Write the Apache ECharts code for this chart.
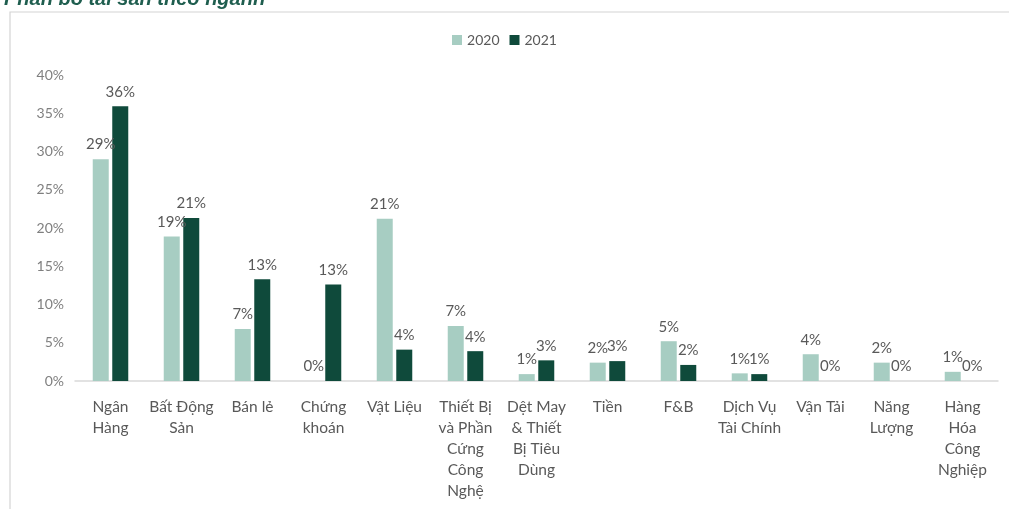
<!DOCTYPE html>
<html><head><meta charset="utf-8">
<script src="https://cdn.jsdelivr.net/npm/echarts@6/dist/echarts.min.js"></script>
<style>html,body{margin:0;padding:0;background:#fff}#c{width:1009px;height:509px}</style>
</head><body><div id="c"></div>
<script>
const categories = ["Ngân\nHàng","Bất Động\nSản","Bán lẻ","Chứng\nkhoán","Vật Liệu","Thiết Bị\nvà Phần\nCứng\nCông\nNghệ","Dệt May\n& Thiết\nBị Tiêu\nDùng","Tiền","F&B","Dịch Vụ\nTài Chính","Vận Tải","Năng\nLượng","Hàng\nHóa\nCông\nNghiệp"];
const values2020 = [29.0, 18.9, 6.8, 0, 21.2, 7.2, 0.9, 2.4, 5.2, 1.0, 3.5, 2.4, 1.2];
const values2021 = [35.9, 21.3, 13.3, 12.6, 4.1, 3.9, 2.7, 2.6, 2.1, 0.9, 0, 0, 0];
const yTicks = [0, 5, 10, 15, 20, 25, 30, 35, 40];
const seriesNames = ["2020", "2021"];

const chart = echarts.init(document.getElementById('c'));
const lbl = {show:true, position:'top', distance:7, color:'#595959', fontSize:15, fontFamily:'Lato', formatter:p=>Math.round(p.value)+'%'};
chart.setOption({
  animation:false,
  textStyle:{fontFamily:'Lato'},
  graphic:[
    {type:'text', left:4, top:-11, style:{text:'Phân bổ tài sản theo ngành', fontSize:20, fontWeight:'bold', fontStyle:'italic', fill:'#1f5e4f', fontFamily:'Liberation Sans'}},
    {type:'rect', shape:{x:10, y:12, width:1005, height:520}, style:{fill:'none', stroke:'#d4d4d4', lineWidth:1.2}}
  ],
  legend:{top:28, left:'center', itemWidth:10, itemHeight:10, itemGap:10, icon:'rect', textStyle:{color:'#595959', fontSize:14}, data:seriesNames},
  grid:{left:75, right:11, top:75, bottom:128, containLabel:false},
  xAxis:{type:'category', data:categories, axisLine:{lineStyle:{color:'#d9d9d9', width:1.5}}, axisTick:{show:false},
    axisLabel:{color:'#595959', fontSize:15.5, lineHeight:21, margin:15, interval:0}},
  yAxis:{type:'value', min:0, max:40, interval:5, splitLine:{show:false}, axisLine:{show:false}, axisTick:{show:false},
    axisLabel:{color:'#7f7f7f', fontSize:14, margin:11, formatter:v=>v+'%'}},
  series:[
    {name:seriesNames[0], type:'bar', data:values2020, barWidth:16, barGap:'22%', itemStyle:{color:'#a7cdc2'}, label:lbl},
    {name:seriesNames[1], type:'bar', data:values2021, barWidth:16, itemStyle:{color:'#0f4a3b'}, label:lbl}
  ]
});
</script></body></html>
